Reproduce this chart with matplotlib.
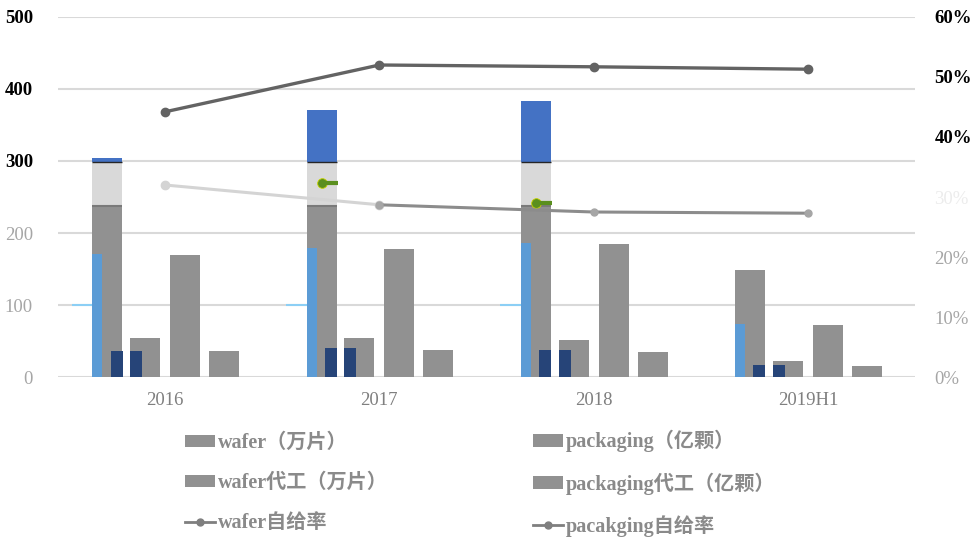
import matplotlib.pyplot as plt
from matplotlib.patches import Patch
from matplotlib.lines import Line2D
import numpy as np

# DATA
years = ['2016', '2017', '2018', '2019H1']
wafer = [236, 236, 236, 149]
packaging = [54, 54, 51, 22]
wafer_fab = [169, 178, 185, 72]
packaging_osat = [36, 38, 35, 15]
# leftover pieces of a second chart that sit on top of the first bar
stack_grey_top = [298, 298, 298, 0]
stack_blue_top = [304, 371, 383, 0]
light_blue_vals = [171, 179, 186, 74]
dark_blue_vals = [36, 40, 38, 17]
green_mark_vals = [np.nan, 269, 241, np.nan]
wafer_rate = [44.2, 52.0, 51.7, 51.3]
packaging_rate = [32.0, 28.7, 27.5, 27.3]

left_ticks = [0, 100, 200, 300, 400, 500]
right_ticks = [0, 10, 20, 30, 40, 50, 60]

# STYLE
GREY = '#919191'
SERIF = ['Liberation Serif', 'Noto Sans CJK SC']

fig = plt.figure(figsize=(9.73, 5.43), dpi=100)
ax = fig.add_axes([0.0596, 0.3057, 0.8808, 0.663])
x = np.arange(len(years))
w = 0.14
offs = [-0.27, -0.093, 0.093, 0.275]

for vals, off in zip([wafer, packaging, wafer_fab, packaging_osat], offs):
    ax.bar(x + off, vals, w, color=GREY, zorder=2)

# overlay segments on the wafer bar
g_top = np.array(stack_grey_top)
b_top = np.array(stack_blue_top)
has = g_top > 0
ax.bar((x + offs[0])[has], (g_top - np.array(wafer))[has], w, bottom=np.array(wafer)[has],
       color='#d9d9d9', zorder=2)
ax.bar((x + offs[0])[has], (b_top - g_top)[has], w, bottom=g_top[has],
       color='#4472c4', zorder=2)
ax.hlines(g_top[has], (x + offs[0] - w / 2)[has], (x + offs[0] + w / 2)[has],
          color='#262626', lw=1, zorder=3)
ax.hlines(np.array(wafer)[has] + 2, (x + offs[0] - w / 2)[has], (x + offs[0] + w / 2)[has],
          color='#7a7a7a', lw=1.5, zorder=3)
ax.bar(x + offs[0] - w / 2, light_blue_vals, 0.047, align='edge', color='#5b9bd5', zorder=3)
ax.bar(x + offs[0] - w / 2 + 0.086, dark_blue_vals, 0.056, align='edge', color='#264478', zorder=3)
ax.bar(x + offs[1] - w / 2, dark_blue_vals, 0.056, align='edge', color='#264478', zorder=3)
ax.hlines([100] * 3, x[:3] + offs[0] - w / 2 - 0.095, x[:3] + offs[0] - w / 2,
          color='#8ccff5', lw=1.5, zorder=3)
ax.plot(x + offs[0], green_mark_vals, ls='none', marker='o', ms=7,
        color='#5a8f1e', mec='#c8d400', mew=0.6, zorder=4)
ax.hlines(green_mark_vals, x + offs[0], x + offs[0] + w / 2 + 0.005,
          color='#5a8f1e', lw=3, zorder=4)

ax.set_xlim(-0.5, 3.5)
ax.set_ylim(0, 500)
ax.set_yticks(left_ticks)
ax.set_yticklabels([str(t) for t in left_ticks])
ax.set_xticks(x)
ax.set_xticklabels(years)
ax.yaxis.grid(True, color='#d9d9d9', lw=1.5, zorder=0)
ax.set_axisbelow(True)
for s in ax.spines.values():
    s.set_visible(False)
ax.tick_params(axis='both', length=0)
ax.tick_params(axis='y', pad=18)
ax.tick_params(axis='x', pad=11)
for lab in ax.get_xticklabels():
    lab.set_family(SERIF)
    lab.set_fontsize(13.5)
    lab.set_color('#7f7f7f')
for lab, t in zip(ax.get_yticklabels(), left_ticks):
    lab.set_family(SERIF)
    lab.set_fontsize(13.5)
    if t >= 300:
        lab.set_fontweight('bold')
        lab.set_color('black')
    else:
        lab.set_color('#a6a6a6')

# RATE LINES
ax2 = ax.twinx()
ax2.plot(x, wafer_rate, color='#636363', lw=2.4, marker='o', ms=6, zorder=4)
ax2.plot(x[:2], packaging_rate[:2], color='#d4d4d4', lw=2.2, marker='o', ms=6, zorder=4)
ax2.plot(x[1:], packaging_rate[1:], color='#8c8c8c', lw=2.2, marker='o', ms=5,
         mfc='#a6a6a6', mec='#a6a6a6', zorder=4)
ax2.set_ylim(0, 60)
ax2.set_yticks(right_ticks)
ax2.set_yticklabels(['%d%%' % t for t in right_ticks])
for s in ax2.spines.values():
    s.set_visible(False)
ax2.tick_params(axis='y', length=0, pad=14)
for lab, t in zip(ax2.get_yticklabels(), right_ticks):
    lab.set_family(SERIF)
    lab.set_fontsize(13.5)
    if t >= 40:
        lab.set_fontweight('bold')
        lab.set_color('black')
    elif t == 30:
        lab.set_color('#ececec')
    else:
        lab.set_color('#a6a6a6')

# LEGEND (two columns drawn as two legends)
def bar_handle():
    return Patch(facecolor=GREY, edgecolor='none')

def line_handle():
    return Line2D([], [], color='#7f7f7f', lw=2, marker='o', ms=5)

col1 = [(bar_handle(), 'wafer（万片）'), (bar_handle(), 'wafer代工（万片）'),
        (line_handle(), 'wafer自给率')]
col2 = [(bar_handle(), 'packaging（亿颗）'), (bar_handle(), 'packaging代工（亿颗）'),
        (line_handle(), 'pacakging自给率')]
for col, xpos, ypos in [(col1, 185, 433), (col2, 533, 430)]:
    leg = fig.legend([h for h, _ in col], [l for _, l in col],
                     loc='upper left', bbox_to_anchor=(xpos / 973, 1 - ypos / 543),
                     frameon=False, prop={'family': SERIF, 'size': 14.5},
                     labelspacing=1.0, handlelength=1.5, handletextpad=0.15,
                     handleheight=0.6, borderaxespad=0, borderpad=0)
    for t in leg.get_texts():
        t.set_color('#8a8a8a')
        t.set_fontweight('bold')

fig.savefig('out.png', dpi=100)
